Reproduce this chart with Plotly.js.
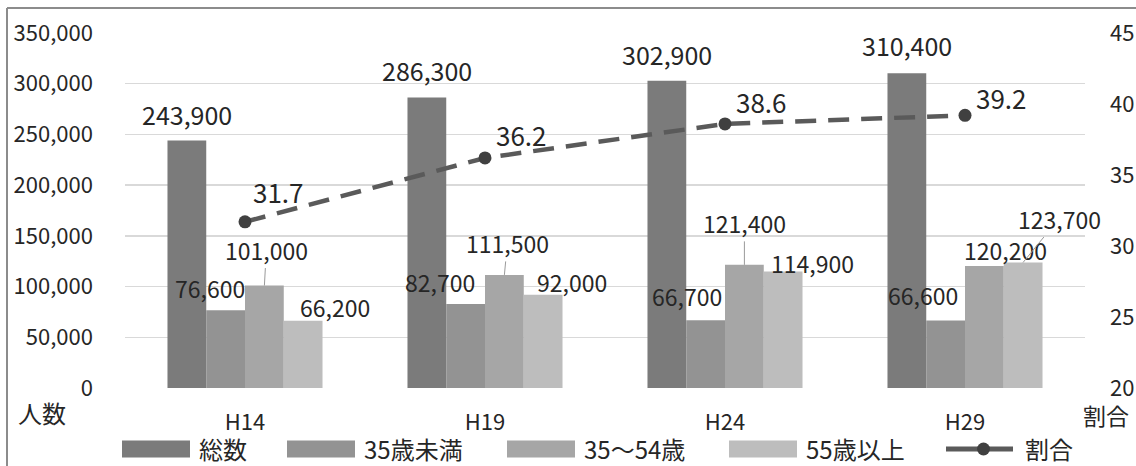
<!DOCTYPE html>
<html><head><meta charset="utf-8">
<script src="https://cdn.plot.ly/plotly-3.0.1.min.js"></script>
<style>body{margin:0;background:#fff;overflow:hidden}#c{width:1136px;height:466px}</style>
</head><body><div id="c"></div>
<script>
const categories = ['H14','H19','H24','H29'];
const seriesNames = ['総数','35歳未満','35～54歳','55歳以上'];
const total = [243900, 286300, 302900, 310400];
const under35 = [76600, 82700, 66700, 66600];
const mid35_54 = [101000, 111500, 121400, 120200];
const over55 = [66200, 92000, 114900, 123700];
const ratio = [31.7, 36.2, 38.6, 39.2];
const ratioName = '割合';
const leftTitle = '人数';
const rightTitle = '割合';

const colors = ['#7b7b7b','#939393','#a6a6a6','#bdbdbd'];
const FONT = '"Noto Sans CJK JP", "Noto Sans", sans-serif';
const TXT = '#262626';
const barSeries = [total, under35, mid35_54, over55];

const traces = barSeries.map((v,i)=>({
  type:'bar', x:categories, y:v, name:seriesNames[i],
  marker:{color:colors[i]}, showlegend:false, hoverinfo:'skip'
}));
traces.push({
  type:'scatter', mode:'lines+markers', x:categories, y:ratio, yaxis:'y2',
  name:ratioName, showlegend:false,
  line:{color:'#5a5a5a', width:4.5, dash:'21px,12px'},
  marker:{color:'#404040', size:13}
});

// plot area geometry (pixels)
const L=125, R=1085, T=33, B=388;
const px = x => (x-L)/(R-L);
const py = y => (B-y)/(B-T);

const barOff = [-58, -19.4, 19.4, 58];
// label offsets per series per category [dx, dy, arrow]
const labelCfg = [
  [[0,27],[0,28],[0,27],[0,28]],
  [[-16,22],[-26,22],[-19,24],[-23,25]],
  [[2,36,true],[3,32,true],[0,42,true],[21,16]],
  [[32,14],[29,13],[29,8],[36,44,true]]
];
const annotations = [];
barSeries.forEach((vals,s)=>{
  vals.forEach((v,i)=>{
    const c = labelCfg[s][i];
    const a = {x:categories[i], y:v, xref:'x', yref:'y', text:v.toLocaleString('en-US'),
      font:{family:FONT, size:s===0?25:23, color:TXT}, xanchor:'center', yanchor:'middle'};
    if (c[2]) {
      a.showarrow = true; a.arrowhead = 0; a.arrowwidth = 1; a.arrowcolor = '#9a9a9a';
      a.xshift = barOff[s]; a.ax = c[0]; a.ay = -c[1]; a.standoff = 0;
    } else {
      a.showarrow = false; a.xshift = barOff[s] + c[0]; a.yshift = c[1];
    }
    annotations.push(a);
  });
});
const ratioOff = [[33,30],[36,23],[36,22],[36,18]];
ratio.forEach((v,i)=>{
  annotations.push({x:categories[i], y:v, xref:'x', yref:'y2', text:v.toFixed(1), showarrow:false,
    xanchor:'center', yanchor:'middle',
    xshift:ratioOff[i][0], yshift:ratioOff[i][1],
    font:{family:FONT, size:26, color:TXT}});
});
annotations.push({xref:'paper', yref:'paper', x:px(42), y:py(413), xanchor:'center', yanchor:'middle',
  text:leftTitle, showarrow:false, font:{family:FONT, size:24, color:TXT}});
annotations.push({xref:'paper', yref:'paper', x:px(1106), y:py(415), xanchor:'center', yanchor:'middle',
  text:rightTitle, showarrow:false, font:{family:FONT, size:23, color:TXT}});

// legend drawn manually
const shapes = [];
const legX = [122, 287, 507, 729];
const legY = 449;
seriesNames.forEach((n,i)=>{
  shapes.push({type:'rect', xref:'paper', yref:'paper', x0:px(legX[i]), x1:px(legX[i]+68),
    y0:py(legY+8.5), y1:py(legY-8.5), fillcolor:colors[i], line:{width:0}});
  annotations.push({xref:'paper', yref:'paper', x:px(legX[i]+75), y:py(legY-1), xanchor:'left', yanchor:'middle',
    text:n, showarrow:false, font:{family:FONT, size:24, color:TXT}});
});
shapes.push({type:'line', xref:'paper', yref:'paper', x0:px(946), x1:px(1013), y0:py(legY), y1:py(legY),
  line:{color:'#5a5a5a', width:5}});
shapes.push({type:'circle', xref:'paper', yref:'paper', x0:px(977), x1:px(990), y0:py(legY+6.5), y1:py(legY-6.5),
  fillcolor:'#404040', line:{width:0}});
annotations.push({xref:'paper', yref:'paper', x:px(1023), y:py(legY-1), xanchor:'left', yanchor:'middle',
  text:ratioName, showarrow:false, font:{family:FONT, size:24, color:TXT}});
// outer frame
shapes.push({type:'line', xref:'paper', yref:'paper', x0:px(7), x1:px(1140), y0:py(8), y1:py(8), line:{color:'#8c8c8c', width:2}});
shapes.push({type:'line', xref:'paper', yref:'paper', x0:px(7), x1:px(7), y0:py(8), y1:py(470), line:{color:'#8c8c8c', width:2}});

const layout = {
  width:1136, height:466,
  margin:{l:L, r:1136-R, t:T, b:466-B, pad:0, autoexpand:false},
  paper_bgcolor:'#fff', plot_bgcolor:'#fff',
  barmode:'group', bargap:0.354, bargroupgap:0,
  font:{family:FONT, size:20, color:TXT},
  xaxis:{type:'category', range:[-0.5,3.5], automargin:false, showgrid:false, showline:false, zeroline:false,
    ticks:'', ticklabelstandoff:19, tickfont:{size:22}},
  yaxis:{range:[0,350000], automargin:false, dtick:50000, tickformat:',', gridcolor:'#d9d9d9', gridwidth:1.5,
    zeroline:false, showline:false, ticks:'', ticklabelstandoff:31, tickfont:{size:22}},
  yaxis2:{range:[20,45], automargin:false, dtick:5, overlaying:'y', side:'right', showgrid:false, zeroline:false,
    showline:false, ticks:'', ticklabelstandoff:24, tickfont:{size:22}},
  showlegend:false,
  annotations, shapes
};
Plotly.newPlot('c', traces, layout, {displayModeBar:false, staticPlot:true});
</script></body></html>
